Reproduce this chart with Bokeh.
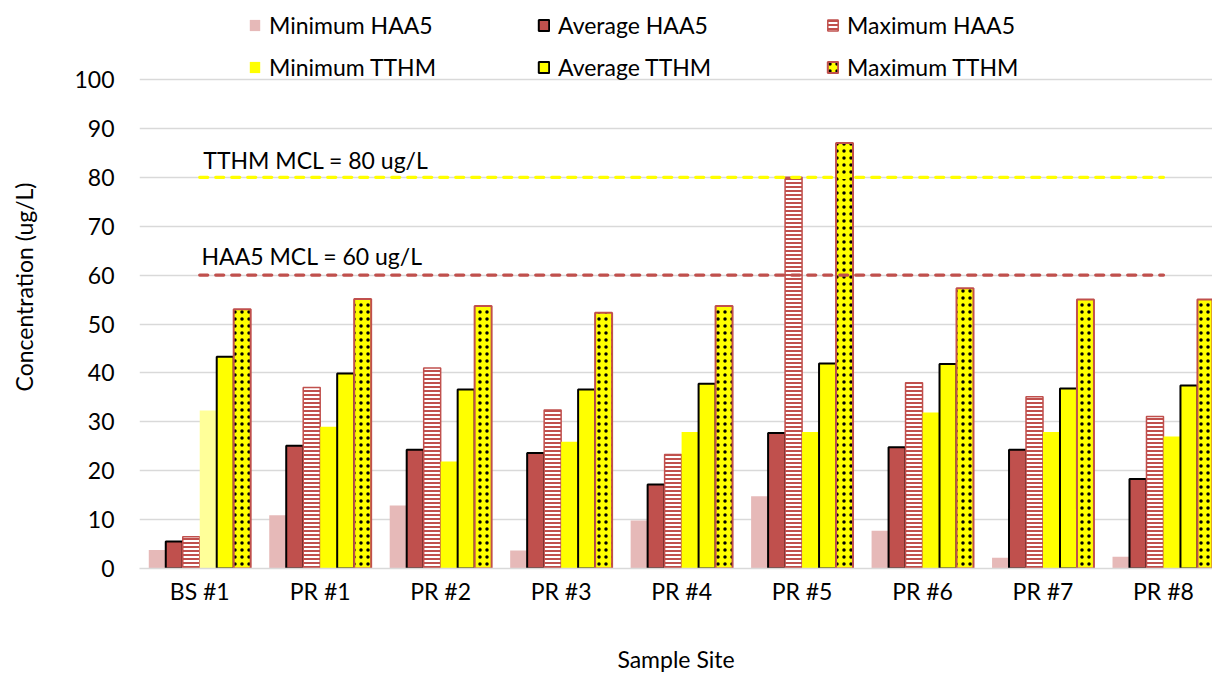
import numpy as np
from bokeh.plotting import figure
from bokeh.models import Range1d, FixedTicker, Legend, LegendItem, Label
from bokeh.embed import file_html
from bokeh.resources import INLINE

# Disinfection by-product concentrations (ug/L) per sample site
sites = ["BS #1", "PR #1", "PR #2", "PR #3", "PR #4", "PR #5", "PR #6", "PR #7", "PR #8"]
min_haa5 = [3.8, 10.9, 12.9, 3.7, 9.8, 14.8, 7.7, 2.2, 2.4]
avg_haa5 = [5.5, 25.1, 24.3, 23.6, 17.2, 27.7, 24.8, 24.3, 18.3]
max_haa5 = [6.5, 37.0, 41.0, 32.4, 23.3, 80.0, 38.0, 35.1, 31.1]
min_tthm = [32.3, 29.0, 21.9, 25.9, 27.9, 27.9, 31.9, 27.9, 27.0]
avg_tthm = [43.3, 39.9, 36.6, 36.6, 37.8, 41.9, 41.8, 36.8, 37.4]
max_tthm = [53.0, 55.1, 53.7, 52.3, 53.7, 87.0, 57.3, 55.0, 55.0]
min_tthm_colors = ["#FFFF99"] + ["#FFFF00"] * 8

haa5_mcl = 60
tthm_mcl = 80
y_ticks = list(range(0, 101, 10))

FONT = "Lato"
FS = "23px"
RED = "#C0504D"

# the frame reaches up to the top of the page so that the legend sits inside it;
# ticks and grid lines stop at 100
p = figure(
    frame_width=1073, frame_height=563,
    min_border_left=139, min_border_right=0, min_border_top=5, min_border_bottom=105,
    x_range=Range1d(-0.5, 8.407), y_range=Range1d(0, 563 / 4.89),
    output_backend="svg", toolbar_location=None,
)
p.outline_line_color = None
p.background_fill_color = "white"
p.border_fill_color = "white"

xc = np.arange(len(sites))
w = 0.141


def pos(j):
    return (xc + (j - 2.5) * w).tolist()


r1 = p.vbar(x=pos(0), top=min_haa5, width=w, fill_color="#E6B9B8", line_color=None)
r2 = p.vbar(x=pos(1), top=avg_haa5, width=w, fill_color=RED, line_color="black", line_width=2)
r3 = p.vbar(x=pos(2), top=max_haa5, width=w, fill_color="white", line_color=RED, line_width=1.5,
            hatch_pattern="horizontal_line", hatch_color=RED, hatch_scale=4, hatch_weight=2)
r4 = p.vbar(x=pos(3), top=min_tthm, width=w, fill_color=min_tthm_colors, line_color=None)
r5 = p.vbar(x=pos(4), top=avg_tthm, width=w, fill_color="#FFFF00", line_color="black", line_width=2)
r6 = p.vbar(x=pos(5), top=max_tthm, width=w, fill_color="#FFFF00", line_color=RED, line_width=2,
            hatch_pattern="dot", hatch_color="black", hatch_scale=7, hatch_weight=2)

# regulatory limits
x_span = [0, len(sites) - 1]
p.line(x=x_span, y=[tthm_mcl, tthm_mcl], line_color="#FFFF00", line_width=3.3,
       line_dash="8 8", line_cap="round")
p.line(x=x_span, y=[haa5_mcl, haa5_mcl], line_color=RED, line_width=3.3,
       line_dash="8 8", line_cap="round")
p.add_layout(Label(x=0.03, y=tthm_mcl + 3.6, text=f"TTHM MCL = {tthm_mcl} ug/L",
                   text_baseline="alphabetic", text_font=FONT, text_font_size=FS,
                   text_color="black"))
p.add_layout(Label(x=0.015, y=haa5_mcl + 4.0, text=f"HAA5 MCL = {haa5_mcl} ug/L",
                   text_baseline="alphabetic", text_font=FONT, text_font_size=FS,
                   text_color="black"))

# axes
p.xaxis.ticker = FixedTicker(ticks=list(range(len(sites))))
p.xaxis.major_label_overrides = {i: s for i, s in enumerate(sites)}
p.xaxis.axis_line_color = "#D9D9D9"
p.xaxis.axis_line_width = 1.5
p.xaxis.major_tick_line_color = None
p.xaxis.minor_tick_line_color = None
p.xaxis.major_label_standoff = 2
p.xaxis.axis_label = "Sample Site"
p.xaxis.axis_label_standoff = 37

p.yaxis.ticker = FixedTicker(ticks=y_ticks)
p.yaxis.axis_line_color = None
p.yaxis.major_tick_line_color = None
p.yaxis.minor_tick_line_color = None
p.yaxis.major_label_standoff = 19
p.yaxis.axis_label = "Concentration (ug/L)"
p.yaxis.axis_label_standoff = 33

for ax in (p.xaxis[0], p.yaxis[0]):
    ax.major_label_text_font = FONT
    ax.major_label_text_font_size = FS
    ax.major_label_text_color = "black"
    ax.axis_label_text_font = FONT
    ax.axis_label_text_font_size = FS
    ax.axis_label_text_font_style = "normal"
    ax.axis_label_text_color = "black"

p.xgrid.visible = False
p.ygrid.ticker = FixedTicker(ticks=y_ticks)
p.ygrid.grid_line_color = "#D9D9D9"
p.ygrid.grid_line_width = 1.5

legend = Legend(
    items=[
        LegendItem(label="Minimum HAA5", renderers=[r1]),
        LegendItem(label="Average HAA5", renderers=[r2]),
        LegendItem(label="Maximum HAA5", renderers=[r3]),
        LegendItem(label="Minimum TTHM", renderers=[r4], index=1),
        LegendItem(label="Average TTHM", renderers=[r5]),
        LegendItem(label="Maximum TTHM", renderers=[r6]),
    ],
    orientation="horizontal", ncols=3,
    location=(109, 487),
    glyph_width=13, glyph_height=14, label_standoff=8, label_width=254, spacing=14,
    padding=0, margin=0, border_line_color=None, background_fill_alpha=0,
    label_text_font=FONT, label_text_font_size=FS, label_text_color="black",
)
p.add_layout(legend, "center")

open("out.html", "w").write(file_html(p, INLINE))
